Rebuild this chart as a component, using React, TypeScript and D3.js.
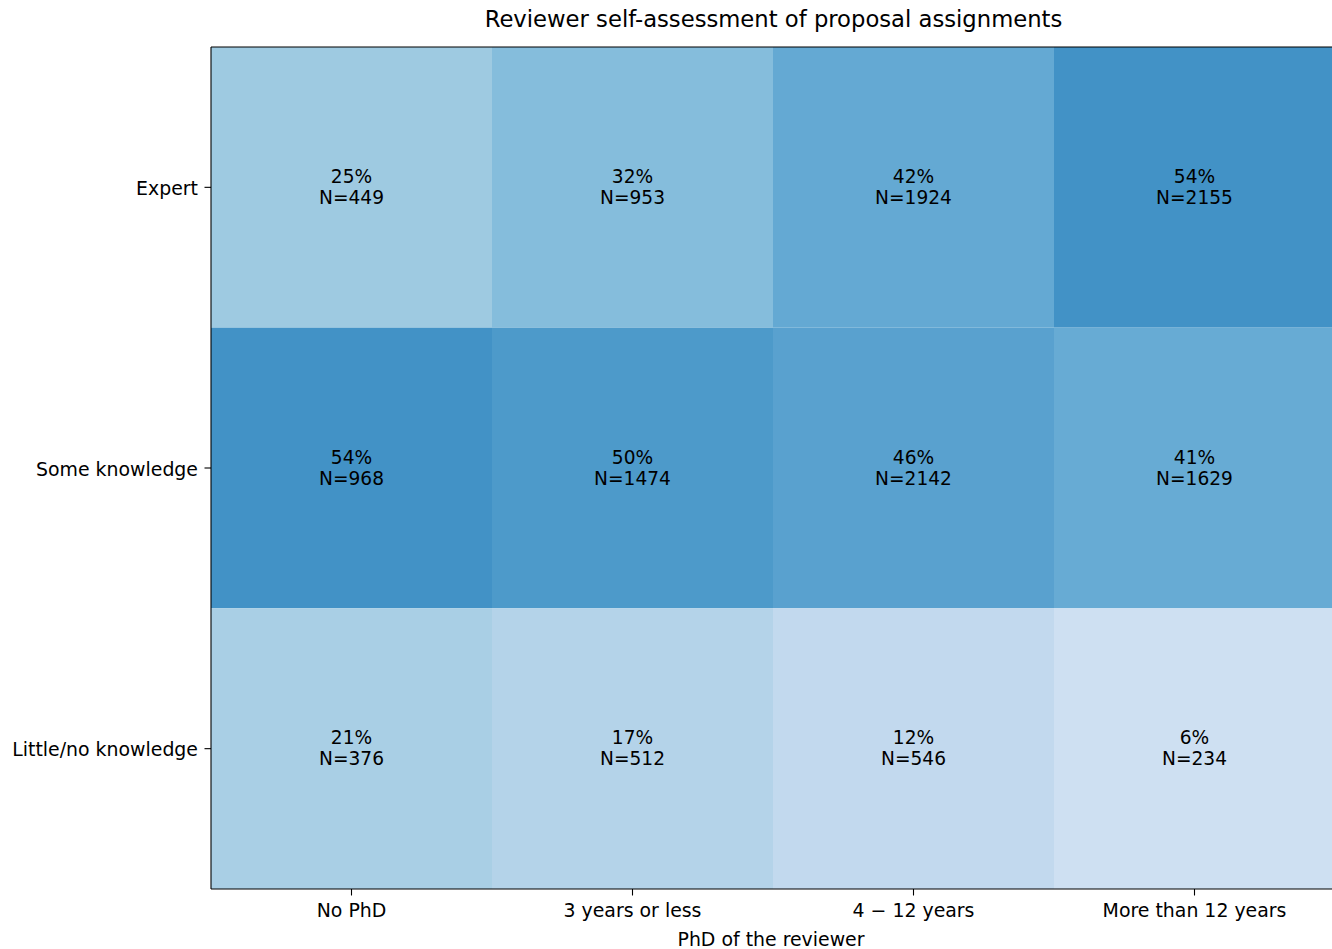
import React from "react";
import * as d3 from "d3";

const columns = ["No PhD", "3 years or less", "4 \u2212 12 years", "More than 12 years"];
const rows = ["Expert", "Some knowledge", "Little/no knowledge"];
const expertPct = [25, 32, 42, 54];
const expertN = [449, 953, 1924, 2155];
const somePct = [54, 50, 46, 41];
const someN = [968, 1474, 2142, 1629];
const littlePct = [21, 17, 12, 6];
const littleN = [376, 512, 546, 234];

const pctRows = [expertPct, somePct, littlePct];
const nRows = [expertN, someN, littleN];

const bluesStops = ["#f7fbff", "#deebf7", "#c6dbef", "#9ecae1", "#6baed6", "#4292c6", "#2171b5", "#08519c", "#08306b"];

const W = 1332;
const H = 949;
const left = 211;
const top = 47;
const plotW = 1124;
const plotH = 842;
const FONT = "DejaVu Sans, sans-serif";
const TICK_FS = 18.9;
const CELL_FS = 18.6;
const TITLE_FS = 22.7;

export default function App() {
  const x = d3.scaleBand().domain(columns).range([left, left + plotW]).padding(0);
  const y = d3.scaleBand().domain(rows).range([top, top + plotH]).padding(0);
  const tScale = d3.scaleLinear().domain([-18.45, 97.5]).range([0, 1]);
  const blues = d3
    .scaleLinear<string>()
    .domain(bluesStops.map((_, i) => i / (bluesStops.length - 1)))
    .range(bluesStops)
    .interpolate(d3.interpolateRgb)
    .clamp(true);
  const color = (p: number) => blues(tScale(p));

  return (
    <svg width={W} height={H} style={{ position: "absolute", left: 0, top: 0, background: "#fff" }} fontFamily={FONT}>
      <text x={773.5} y={27.3} textAnchor="middle" fontSize={TITLE_FS} fill="#000">
        Reviewer self-assessment of proposal assignments
      </text>
      {rows.map((r, ri) =>
        columns.map((c, ci) => (
          <rect
            key={r + c}
            x={x(c)!}
            y={y(r)!}
            width={x.bandwidth()}
            height={y.bandwidth()}
            fill={color(pctRows[ri][ci])}
          />
        ))
      )}
      {rows.map((r, ri) =>
        columns.map((c, ci) => {
          const cx = x(c)! + x.bandwidth() / 2;
          const cy = y(r)! + y.bandwidth() / 2;
          return (
            <text key={"t" + r + c} x={cx} textAnchor="middle" fontSize={CELL_FS} fill="#000">
              <tspan x={cx} y={cy - 4.3}>{pctRows[ri][ci]}%</tspan>
              <tspan x={cx} y={cy + 16.7}>N={nRows[ri][ci]}</tspan>
            </text>
          );
        })
      )}
      {/* spines */}
      <line x1={left} x2={left} y1={top} y2={top + plotH} stroke="#000" strokeWidth={1.1} />
      <line x1={left} x2={left + plotW} y1={top} y2={top} stroke="#000" strokeWidth={1.1} />
      <line x1={left} x2={left + plotW} y1={top + plotH} y2={top + plotH} stroke="#000" strokeWidth={1.1} />
      <line x1={left + plotW} x2={left + plotW} y1={top} y2={top + plotH} stroke="#000" strokeWidth={1.1} />
      {/* x ticks */}
      {columns.map((c) => {
        const cx = x(c)! + x.bandwidth() / 2;
        return (
          <g key={"xt" + c}>
            <line x1={cx} x2={cx} y1={top + plotH} y2={top + plotH + 6.5} stroke="#000" strokeWidth={1.1} />
            <text x={cx} y={917} textAnchor="middle" fontSize={TICK_FS} fill="#000">
              {c}
            </text>
          </g>
        );
      })}
      {rows.map((r) => {
        const cy = y(r)! + y.bandwidth() / 2;
        return (
          <g key={"yt" + r}>
            <line x1={left - 6.5} x2={left} y1={cy} y2={cy} stroke="#000" strokeWidth={1.1} />
            <text x={198} y={cy + 7.5} textAnchor="end" fontSize={TICK_FS} fill="#000">
              {r}
            </text>
          </g>
        );
      })}
      <text x={771} y={945.5} textAnchor="middle" fontSize={TICK_FS} fill="#000">
        PhD of the reviewer
      </text>
    </svg>
  );
}
